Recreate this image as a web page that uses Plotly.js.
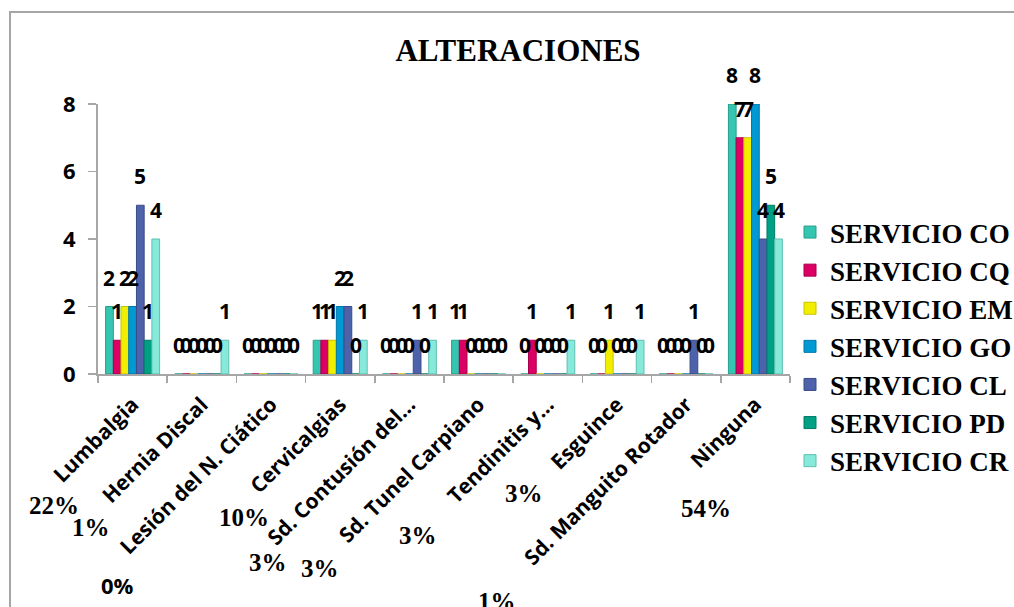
<!DOCTYPE html>
<html>
<head>
<meta charset="utf-8">
<script src="https://cdn.plot.ly/plotly-3.0.1.min.js"></script>
<style>
  html, body { margin: 0; padding: 0; background: #ffffff; overflow: hidden; }
  #chart { width: 1014px; height: 607px; position: absolute; left: 0; top: 0; }
  #marco { position: absolute; left: 9px; top: 11px; width: 1100px; height: 700px;
           border: 2px solid #a6a6a6; pointer-events: none; box-sizing: border-box; }
</style>
</head>
<body>
<div id="chart"></div>
<div id="marco"></div>
<script>
// Categorías del eje X
const categorias = [
  'Lumbalgia', 'Hernia Discal', 'Lesión del N. Ciático', 'Cervicalgias',
  'Sd. Contusión del…', 'Sd. Tunel Carpiano', 'Tendinitis y…', 'Esguince',
  'Sd. Manguito Rotador', 'Ninguna'
];

// Número de casos por servicio
const servicios = ['SERVICIO CO', 'SERVICIO CQ', 'SERVICIO EM', 'SERVICIO GO',
                   'SERVICIO CL', 'SERVICIO PD', 'SERVICIO CR'];
const valoresCO = [2, 0, 0, 1, 0, 1, 0, 0, 0, 8];
const valoresCQ = [1, 0, 0, 1, 0, 1, 1, 0, 0, 7];
const valoresEM = [2, 0, 0, 1, 0, 0, 0, 1, 0, 7];
const valoresGO = [2, 0, 0, 2, 0, 0, 0, 0, 0, 8];
const valoresCL = [5, 0, 0, 2, 1, 0, 0, 0, 1, 4];
const valoresPD = [1, 0, 0, 0, 0, 0, 0, 0, 0, 5];
const valoresCR = [4, 1, 0, 1, 1, 0, 1, 1, 0, 4];

// Porcentaje de cada alteración
const porcentajes = ['22%', '1%', '0%', '10%', '3%', '3%', '3%', '3%', '1%', '54%'];

// Ticks del eje Y
const ticksY = [0, 2, 4, 6, 8];

const valores = [valoresCO, valoresCQ, valoresEM, valoresGO, valoresCL, valoresPD, valoresCR];
const colores = ['#35c6b1', '#dc0064', '#f2ee00', '#0099d4', '#4d62aa', '#00a084', '#86e9da'];
const bordes  = ['#279e8d', '#a8004c', '#c9c200', '#0077a8', '#3a4b88', '#007a64', '#5fbfb0'];

// Geometría del área de trazado (px)
const M = { l: 98, r: 224, t: 104, b: 233 };
const W = 1014, H = 607;
const anchoPlot = W - M.l - M.r, altoPlot = H - M.t - M.b;
const bargap = 0.22;
const n = servicios.length;
const anchoBarra = (1 - bargap) / n;

const trazas = servicios.map((s, i) => ({
  type: 'bar',
  name: s,
  x: categorias,
  y: valores[i],
  marker: { color: colores[i], line: { color: bordes[i], width: 1 } },
  hoverinfo: 'x+y+name'
}));

// Etiquetas de valor sobre cada barra
const anotaciones = [];
valores.forEach((serie, i) => {
  serie.forEach((v, k) => {
    anotaciones.push({
      x: k + (i - (n - 1) / 2) * anchoBarra,
      y: v, xref: 'x', yref: 'y',
      text: String(v), showarrow: false,
      yshift: 29, yanchor: 'middle', xanchor: 'center',
      font: { family: 'Open Sans', size: 21, color: '#000', weight: 700 }
    });
  });
});

// Porcentajes repartidos bajo el eje (posiciones en px de la página)
const posPorcentajes = [
  [54, 505], [91, 527], [117, 585], [244, 517], [268, 562],
  [320, 568], [418, 535], [524, 493], [497, 601], [706, 508]
];
porcentajes.forEach((t, k) => {
  const [px, py] = posPorcentajes[k];
  const sans = (k === 2);
  anotaciones.push({
    x: (px - M.l) / anchoPlot, y: (H - M.b - py) / altoPlot,
    xref: 'paper', yref: 'paper', text: t, showarrow: false,
    xanchor: 'center', yanchor: 'middle',
    font: sans ? { family: 'Open Sans', size: 22, color: '#000', weight: 700 }
               : { family: 'Liberation Serif', size: 25, color: '#000', weight: 700 }
  });
});

const layout = {
  width: W, height: H,
  margin: M,
  paper_bgcolor: '#ffffff', plot_bgcolor: '#ffffff',
  barmode: 'group', bargap: bargap, bargroupgap: 0,
  showlegend: true,
  title: {
    text: 'ALTERACIONES',
    x: 518 / W, xref: 'container', xanchor: 'center',
    y: 1 - 50 / H, yref: 'container', yanchor: 'middle',
    font: { family: 'Liberation Serif', size: 31, color: '#000', weight: 700 }
  },
  xaxis: {
    type: 'category',
    tickangle: -45,
    tickson: 'boundaries',
    ticks: 'outside', ticklen: 7, tickcolor: '#a6a6a6', tickwidth: 1.5,
    showline: true, linecolor: '#a6a6a6', linewidth: 2,
    showgrid: false, zeroline: false,
    tickfont: { family: 'Open Sans', size: 21, color: '#000', weight: 700 },
    ticklabelstandoff: 8,
    fixedrange: true
  },
  yaxis: {
    range: [0, 8],
    tickmode: 'array', tickvals: ticksY, ticktext: ticksY.map(String),
    ticks: 'outside', ticklen: 8, tickcolor: '#a6a6a6', tickwidth: 1.5,
    showline: true, linecolor: '#a6a6a6', linewidth: 2,
    showgrid: false, zeroline: false,
    tickfont: { family: 'Open Sans', size: 22, color: '#000', weight: 700 },
    ticklabelstandoff: 8,
    fixedrange: true
  },
  legend: {
    xref: 'container', yref: 'container',
    x: 790 / W, xanchor: 'left',
    y: 1 - 208 / H, yanchor: 'top',
    font: { family: 'Liberation Serif', size: 27, color: '#000', weight: 700 },
    bgcolor: 'rgba(0,0,0,0)', borderwidth: 0
  },
  annotations: anotaciones
};

Plotly.newPlot('chart', trazas, layout, { displayModeBar: false, staticPlot: true });
</script>
</body>
</html>
